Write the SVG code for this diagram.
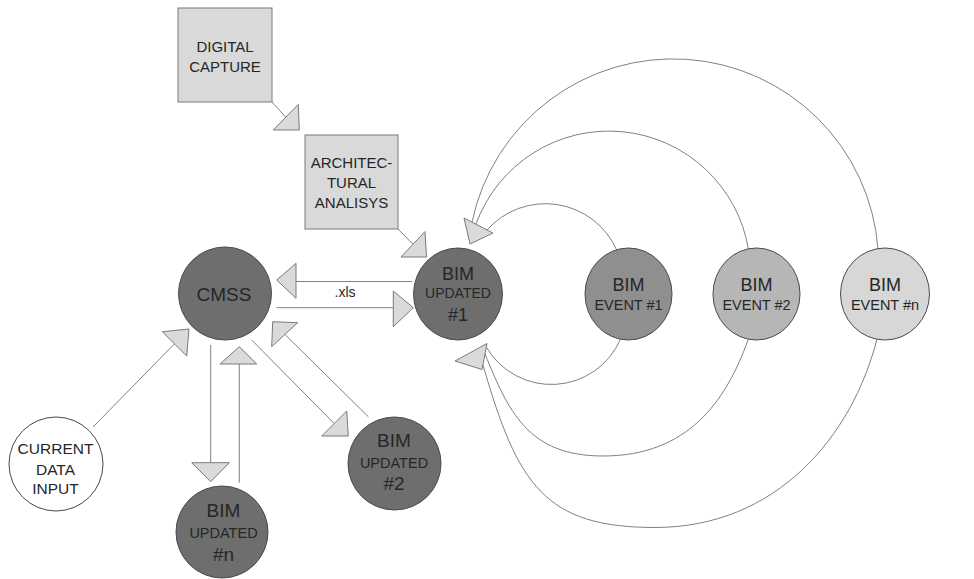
<svg xmlns="http://www.w3.org/2000/svg" width="974" height="579" viewBox="0 0 974 579">
<style>
.box{fill:#d9d9d9;stroke:#7a7a7a;stroke-width:1}
.node{stroke:#4a4a4a;stroke-width:1}
.dark{fill:#6e6e6e}
.e1{fill:#8f8f8f}
.e2{fill:#b6b6b6}
.en{fill:#d7d7d7}
.white{fill:#ffffff}
.ln{fill:none;stroke:#808080;stroke-width:1}
.ah{fill:#dadada;stroke:#7a7a7a;stroke-width:1}
text{font-family:"Liberation Sans",Arial,sans-serif;fill:#262626;text-anchor:middle}
.t15{font-size:15px}
.big{font-size:19px}
.bigr{font-size:18px}
.mid{font-size:14.5px}
.midr{font-size:14px}
.ev{font-size:15.5px}
.evr{font-size:14.5px}
.xls{font-size:14px}
</style>
<rect width="974" height="579" fill="#ffffff"/>
<g id="connectors">
  <line class="ln" x1="272" y1="102" x2="285.8" y2="117.2"/>
  <polygon class="ah" points="273.3,130 298.3,104.3 299.3,130"/>
  <line class="ln" x1="398" y1="229" x2="413" y2="244.3"/>
  <polygon class="ah" points="401,257 425,231.5 426.5,257"/>
  <line class="ln" x1="412" y1="281.5" x2="296" y2="281.5"/>
  <polygon class="ah" points="276.7,280 296,263.3 296,298.3"/>
  <line class="ln" x1="276.7" y1="307.7" x2="393.3" y2="307.7"/>
  <polygon class="ah" points="393.3,291 393.3,326.7 413.3,307.7"/>
  <line class="ln" x1="93" y1="427" x2="174.5" y2="343.8"/>
  <polygon class="ah" points="162.3,331.7 189,329 186.7,356"/>
  <line class="ln" x1="210.7" y1="345" x2="210.7" y2="462.7"/>
  <polygon class="ah" points="191.7,462.7 229.3,462.7 210.7,481.7"/>
  <line class="ln" x1="239.3" y1="482.7" x2="239.3" y2="364"/>
  <polygon class="ah" points="220,364 256.7,364 239.3,346.7"/>
  <line class="ln" x1="251.7" y1="340" x2="334.2" y2="423.5"/>
  <polygon class="ah" points="321.7,436 346.7,411 348.3,436"/>
  <line class="ln" x1="368.3" y1="416.7" x2="285.2" y2="334.7"/>
  <polygon class="ah" points="271.7,346.7 272.7,321.7 297.7,322.7"/>
  <path class="ln" d="M878,249 A205.5,205.5 0 0 0 472,222"/>
  <path class="ln" d="M748.5,249.5 A141.5,141.5 0 0 0 476,224"/>
  <path class="ln" d="M616.7,250 A78,78 0 0 0 487,230"/>
  <polygon class="ah" points="464,218 493,233 470,244"/>
  <path class="ln" d="M620.4,339.3 A75.3,75.3 0 0 1 486.3,347"/>
  <path class="ln" d="M748,340 C726,401.2 688,456 603,456 C528,456 508.6,411.6 485,354"/>
  <path class="ln" d="M877,339 C852.3,435.9 777,527.5 655,527.5 C545,527.5 517.5,485 483,365"/>
  <polygon class="ah" points="455,361 487,343.5 482,369.5"/>
  <text class="xls" x="345" y="297">.xls</text>
</g>
<g id="digital-capture">
  <rect class="box" x="178" y="8" width="94" height="94"/>
  <text class="t15" x="225" y="51.5">DIGITAL</text>
  <text class="t15" x="225" y="71.5">CAPTURE</text>
</g>
<g id="architectural-analisys">
  <rect class="box" x="305" y="135" width="93" height="94"/>
  <text class="t15" x="351.5" y="168.3">ARCHITEC-</text>
  <text class="t15" x="351.5" y="188.3">TURAL</text>
  <text class="t15" x="351.5" y="208.3">ANALISYS</text>
</g>
<g id="cmss">
  <circle class="node dark" cx="225" cy="293.5" r="46.5"/>
  <text class="big" x="224" y="301">CMSS</text>
</g>
<g id="bim-updated-1">
  <ellipse class="node dark" cx="458" cy="294" rx="44.5" ry="46"/>
  <text class="bigr" x="458" y="279.5">BIM</text>
  <text class="midr" x="458" y="298">UPDATED</text>
  <text class="bigr" x="458" y="320.5">#1</text>
</g>
<g id="bim-event-1">
  <ellipse class="node e1" cx="628.5" cy="294" rx="43.5" ry="46"/>
  <text class="bigr" x="628.5" y="291">BIM</text>
  <text class="evr" x="628.5" y="310">EVENT #1</text>
</g>
<g id="bim-event-2">
  <ellipse class="node e2" cx="756.5" cy="294" rx="43.5" ry="46"/>
  <text class="bigr" x="756.5" y="291">BIM</text>
  <text class="evr" x="756.5" y="310">EVENT #2</text>
</g>
<g id="bim-event-n">
  <ellipse class="node en" cx="885" cy="294" rx="44.5" ry="46"/>
  <text class="bigr" x="885" y="291">BIM</text>
  <text class="evr" x="885" y="310">EVENT #n</text>
</g>
<g id="current-data-input">
  <circle class="node white" cx="56" cy="464" r="47"/>
  <text class="ev" x="55.5" y="454">CURRENT</text>
  <text class="ev" x="55.5" y="474.5">DATA</text>
  <text class="ev" x="55.5" y="494">INPUT</text>
</g>
<g id="bim-updated-2">
  <circle class="node dark" cx="394.5" cy="463.5" r="46.5"/>
  <text class="big" x="394" y="447">BIM</text>
  <text class="mid" x="394" y="467.7">UPDATED</text>
  <text class="big" x="394" y="490">#2</text>
</g>
<g id="bim-updated-n">
  <circle class="node dark" cx="222" cy="532" r="46"/>
  <text class="big" x="223.5" y="517">BIM</text>
  <text class="mid" x="223.5" y="537.5">UPDATED</text>
  <text class="big" x="223.5" y="561">#n</text>
</g>
</svg>
